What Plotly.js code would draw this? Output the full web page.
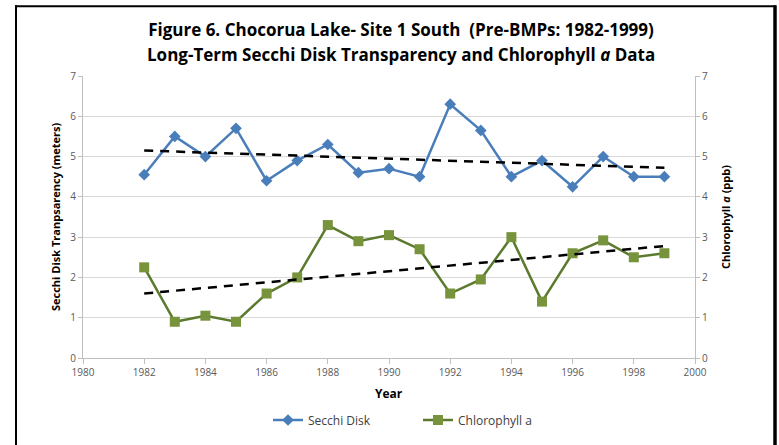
<!DOCTYPE html>
<html>
<head>
<meta charset="utf-8">
<script src="https://cdn.plot.ly/plotly-3.0.1.min.js"></script>
<style>
html,body{margin:0;padding:0;background:#fff;}
#chart{width:779px;height:445px;}
</style>
</head>
<body>
<div id="chart"></div>
<script>
const years = [1982,1983,1984,1985,1986,1987,1988,1989,1990,1991,1992,1993,1994,1995,1996,1997,1998,1999];
const secchi = [4.55,5.5,5.0,5.7,4.4,4.9,5.3,4.6,4.7,4.5,6.3,5.65,4.5,4.9,4.25,5.0,4.5,4.5];
const chlorophyll = [2.25,0.9,1.05,0.9,1.6,2.0,3.3,2.9,3.05,2.7,1.6,1.95,3.0,1.4,2.6,2.92,2.5,2.6];
const trendYears = [1982,1999];
const secchiTrend = [5.15,4.72];
const chlTrend = [1.6,2.78];
const xTicks = [1980,1982,1984,1986,1988,1990,1992,1994,1996,1998,2000];
const yTicks = [0,1,2,3,4,5,6,7];
const titleLines = ['Figure 6. Chocorua Lake- Site 1 South  (Pre-BMPs: 1982-1999)',
                    'Long-Term Secchi Disk Transparency and Chlorophyll <i>a</i> Data'];

const font = "'Open Sans', 'Noto Sans', sans-serif";

const traces = [
  {x: years, y: secchi, name: 'Secchi Disk', type: 'scatter', mode: 'lines+markers',
   line: {color: '#4A7EBB', width: 2.5}, marker: {symbol: 'diamond', size: 9, color: '#4A7EBB'}},
  {x: years, y: chlorophyll, name: 'Chlorophyll a', type: 'scatter', mode: 'lines+markers', yaxis: 'y2',
   line: {color: '#5B7A2E', width: 2.5}, marker: {symbol: 'square', size: 10, color: '#77933C'}},
  {x: trendYears, y: secchiTrend, type: 'scatter', mode: 'lines', showlegend: false, hoverinfo: 'skip',
   line: {color: '#000', width: 2.5, dash: '9px,7px'}},
  {x: trendYears, y: chlTrend, type: 'scatter', mode: 'lines', yaxis: 'y2', showlegend: false, hoverinfo: 'skip',
   line: {color: '#000', width: 2.5, dash: '9px,7px'}}
];

const px = v => (v - 83) / 612;
const py = v => (359 - v) / 283;

const layout = {
  width: 779, height: 445,
  margin: {l: 83, r: 84, t: 76, b: 86},
  paper_bgcolor: '#fff', plot_bgcolor: '#fff',
  font: {family: font, color: '#595959'},
  title: {text: titleLines[0], font: {family: font, size: 17, color: '#000', weight: 'bold'},
          x: 401/779, xref: 'container', xanchor: 'center', y: 1 - 30/445, yref: 'container', yanchor: 'middle'},
  showlegend: true,
  legend: {orientation: 'h', x: px(268), xanchor: 'left', y: py(420), yanchor: 'middle',
           font: {family: font, size: 12, color: '#404040'}, itemwidth: 30, entrywidth: 105, entrywidthmode: 'pixels'},
  xaxis: {range: [1980, 2000], tickvals: xTicks, ticktext: xTicks.map(String),
          showgrid: false, zeroline: false, showline: true, linecolor: '#BFBFBF', linewidth: 1,
          ticks: 'outside', ticklen: 5, tickcolor: '#BFBFBF', tickfont: {size: 10, color: '#595959'}, fixedrange: true},
  yaxis: {range: [0, 7], tickvals: yTicks, showgrid: true, gridcolor: '#D9D9D9', gridwidth: 1, zeroline: false,
          showline: true, linecolor: '#BFBFBF', ticks: 'outside', ticklen: 4, tickcolor: '#BFBFBF',
          tickfont: {size: 10, color: '#595959'}, fixedrange: true},
  yaxis2: {range: [0, 7], tickvals: yTicks, overlaying: 'y', side: 'right', showgrid: false, zeroline: false,
           showline: true, linecolor: '#BFBFBF', ticks: 'outside', ticklen: 4, tickcolor: '#BFBFBF',
           tickfont: {size: 10, color: '#595959'}, fixedrange: true},
  annotations: [
    {text: titleLines[1], xref: 'paper', yref: 'paper', x: px(401), y: py(54), xanchor: 'center', yanchor: 'middle',
     showarrow: false, font: {family: font, size: 17, color: '#000', weight: 'bold'}},
    {text: 'Year', xref: 'paper', yref: 'paper', x: 0.5, y: py(395), xanchor: 'center', yanchor: 'middle',
     showarrow: false, font: {family: font, size: 12, color: '#000', weight: 'bold'}},
    {text: 'Secchi Disk Tranpsarency (meters)', xref: 'paper', yref: 'paper', x: px(55), y: 0.5, textangle: -90,
     xanchor: 'center', yanchor: 'middle', showarrow: false, font: {family: font, size: 11, color: '#000', weight: 'bold'}},
    {text: 'Chlorophyll <i>a</i> (ppb)', xref: 'paper', yref: 'paper', x: px(725), y: 0.5, textangle: -90,
     xanchor: 'center', yanchor: 'middle', showarrow: false, font: {family: font, size: 11, color: '#000', weight: 'bold'}}
  ],
  shapes: [
    {type: 'line', xref: 'paper', yref: 'paper', x0: px(15), x1: px(776), y0: py(6), y1: py(6), line: {color: '#000', width: 2}},
    {type: 'line', xref: 'paper', yref: 'paper', x0: px(16), x1: px(16), y0: py(5), y1: py(450), line: {color: '#000', width: 2}},
    {type: 'line', xref: 'paper', yref: 'paper', x0: px(775), x1: px(775), y0: py(5), y1: py(450), line: {color: '#000', width: 3.5}}
  ]
};

Plotly.newPlot('chart', traces, layout, {displayModeBar: false, staticPlot: true});
</script>
</body>
</html>
